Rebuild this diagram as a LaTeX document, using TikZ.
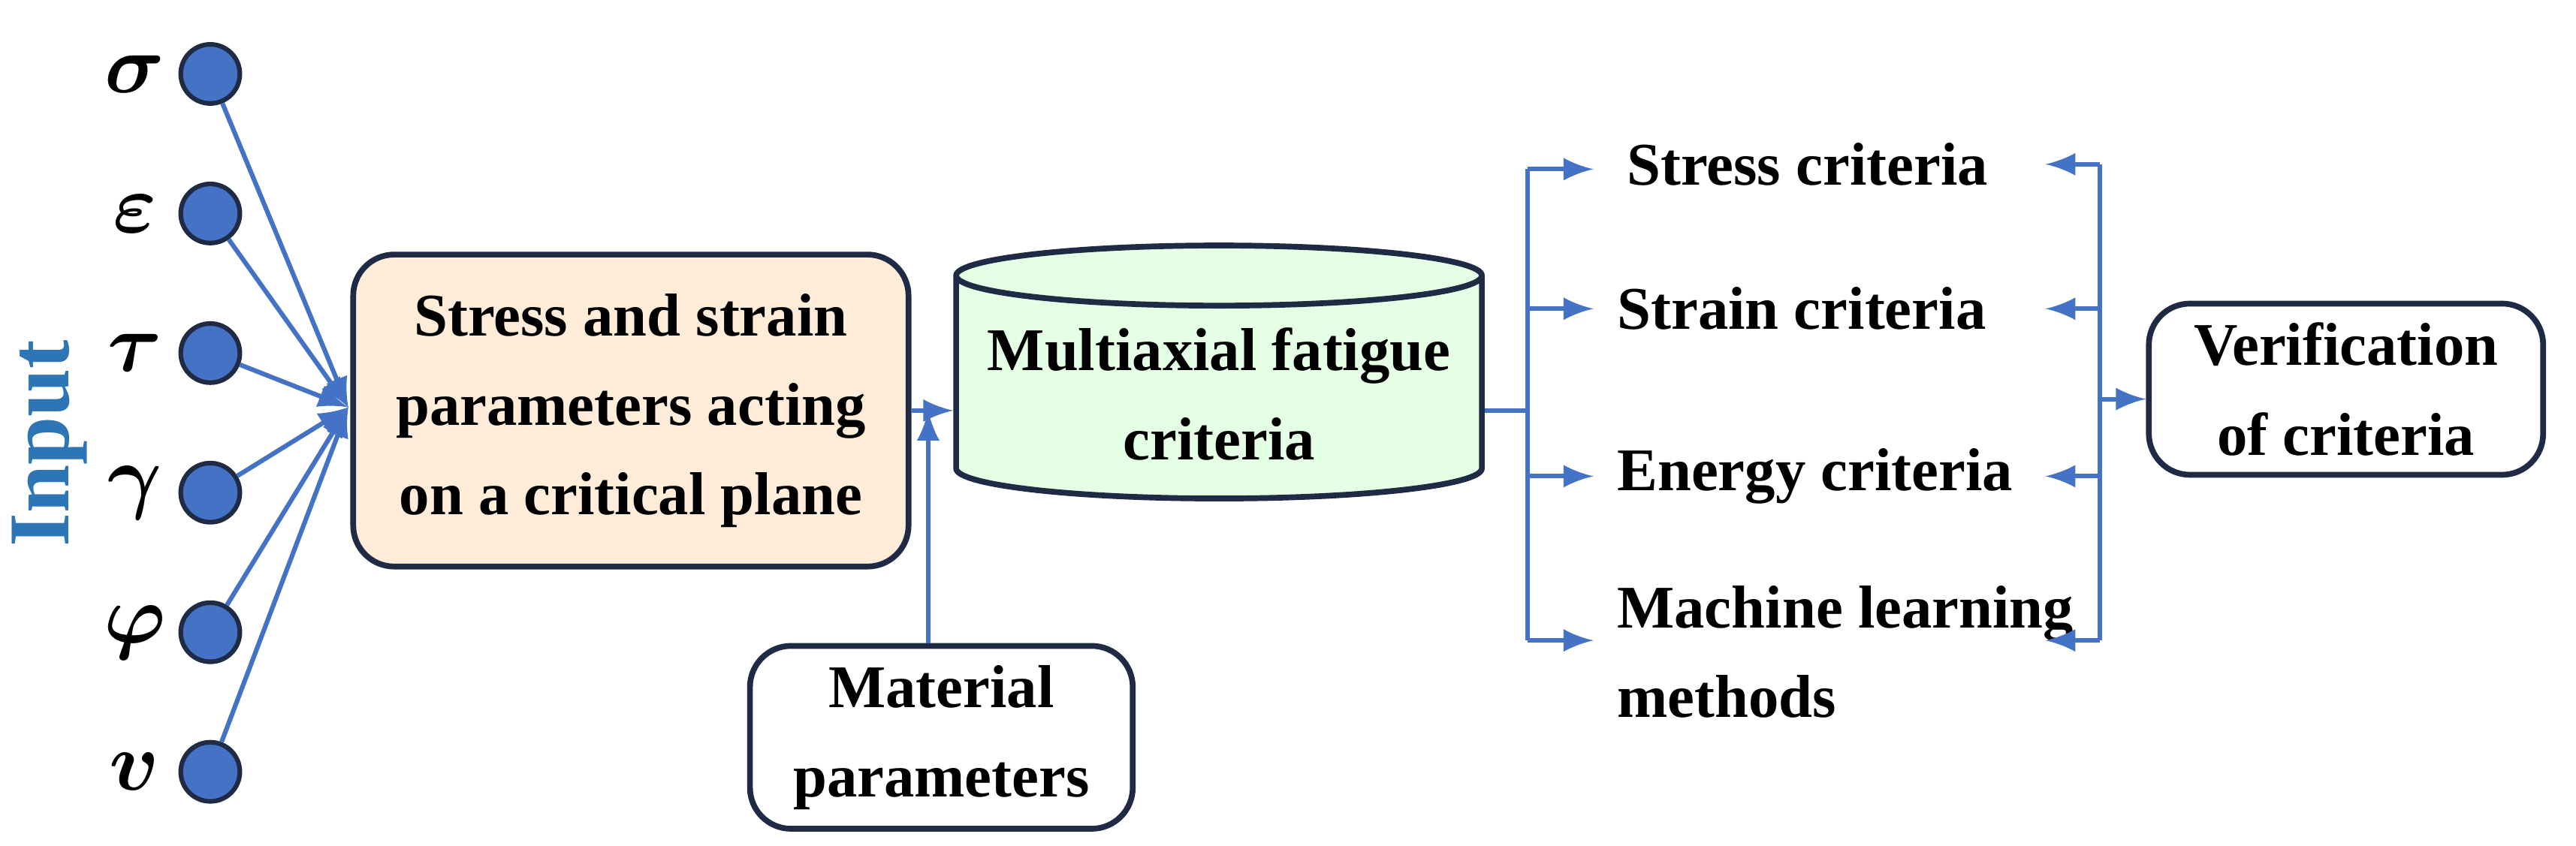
\documentclass[tikz,border=0pt]{standalone}
\usepackage{amsmath,bm}
\usepackage{fontspec}
\setmainfont{Liberation Serif}
\usetikzlibrary{shapes.geometric, positioning, arrows}
\definecolor{navy}{HTML}{1F2A44}
\definecolor{lblue}{HTML}{4472C4}
\definecolor{tblue}{HTML}{2E75B6}
\begin{document}
\begin{tikzpicture}[x=0.1mm, y=-0.1mm, font=\fontsize{10.5}{15.5}\selectfont\bfseries,
  inp/.style={circle, draw=navy, fill=lblue, minimum size=3.6mm, inner sep=0pt, line width=0.8pt},
  box/.style={draw=navy, rounded corners=2.5mm, line width=1pt, align=center},
  lnk/.style={draw=lblue, line width=0.8pt},
  arr/.style={lnk, -latex}]
	\useasboundingbox (0,0) rectangle (1568,515);
	\node[rotate=90, text=tblue, font=\fontsize{15}{15}\selectfont\bfseries] (in) at (30,270) {Input};
	\foreach \n/\s/\y in {1/\sigma/45, 2/\varepsilon/130, 3/\tau/215, 4/\gamma/300, 5/\varphi/385, 6/v/470}{
		\node[inp] (c\n) at (128,\y) {};
		\node[font=\fontsize{15}{15}\selectfont] (g\n) at (82,\y) {$\bm{\s}$};
	}
	\node[box, fill=orange!15, minimum width=33.8mm, minimum height=19mm] (plane) at (384,250)
		{Stress and strain\\parameters acting\\on a critical plane};
	\node[cylinder, shape border rotate=90, aspect=0.12, draw=navy, line width=1pt, fill=green!10,
		minimum width=32mm, minimum height=14mm, align=center] (crit) at (742,240) {Multiaxial fatigue\\criteria};
	\node[box, minimum width=23.3mm, minimum height=9.2mm] (mat) at (573,449) {Material\\parameters};
	\node[box, minimum width=24mm, minimum height=9.7mm] (ver) at (1428,237) {Verification\\of criteria};
	\node[anchor=west] (s1) at (978,100) {Stress criteria};
	\node[anchor=west] (s2) at (972,188) {Strain criteria};
	\node[anchor=west] (s3) at (972,290) {Energy criteria};
	\node[anchor=west, align=left] (s4) at (972,397) {Machine learning\\methods};
	\coordinate (hub) at (212,248);
	\foreach \n in {1,...,6}{ \draw[arr] (c\n) -- (hub); }
	\coordinate (mid) at (565,250);
	\draw[arr] (plane.east |- mid) -- (crit.west |- mid);
	\draw[arr] (mat.north -| mid) -- (mid);
	% left bracket
	\coordinate (lt) at (930,103);
	\coordinate (lb) at (930,390);
	\draw[lnk] (crit.east |- 0,250) -- (930,250);
	\draw[lnk] (lt) -- (lb);
	\foreach \y in {103,188,290,390}{ \draw[arr] (930,\y) -- (970,\y); }
	% right bracket
	\draw[lnk] (1278,100) -- (1278,390);
	\foreach \y in {100,188,290,390}{ \draw[arr] (1278,\y) -- (1245,\y); }
	\draw[arr] (1278,243) -- (ver.west |- 0,243);
\end{tikzpicture}
\end{document}
